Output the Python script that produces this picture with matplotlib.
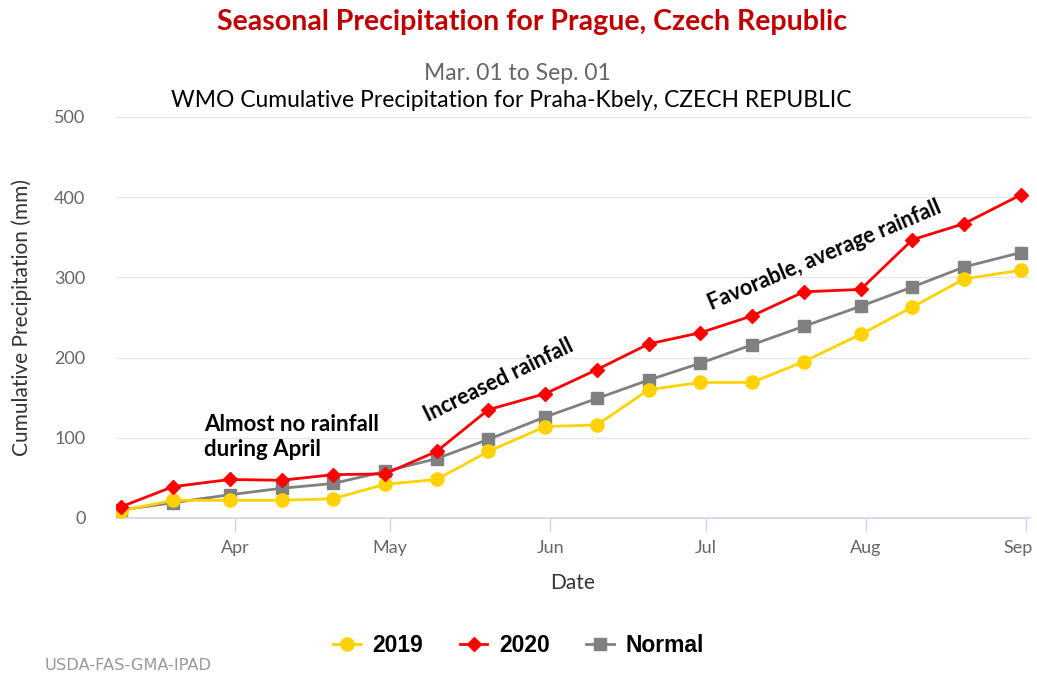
import matplotlib
matplotlib.use("Agg")
import matplotlib.pyplot as plt
import matplotlib.dates as mdates
import matplotlib.transforms as mtransforms
import pandas as pd
from matplotlib.lines import Line2D

# dekad end dates
dates = ["2020-03-10", "2020-03-20", "2020-03-31", "2020-04-10", "2020-04-20", "2020-04-30",
         "2020-05-10", "2020-05-20", "2020-05-31", "2020-06-10", "2020-06-20", "2020-06-30",
         "2020-07-10", "2020-07-20", "2020-07-31", "2020-08-10", "2020-08-20", "2020-08-31"]
y2019 = [9, 22, 22, 22, 24, 42, 48, 83, 114, 116, 160, 169, 169, 195, 229, 263, 298, 309]
y2020 = [14, 39, 48, 47, 54, 55, 83, 135, 155, 185, 217, 231, 252, 282, 285, 347, 367, 403]
normal = [10, 19, 29, 37, 43, 58, 74, 98, 126, 149, 172, 193, 216, 239, 264, 288, 313, 331]
yticks = [0, 100, 200, 300, 400, 500]

x = pd.to_datetime(dates)

plt.rcParams["font.family"] = ["Lato", "DejaVu Sans"]

fig = plt.figure(figsize=(10.37, 6.77), dpi=100)
ax = fig.add_axes([0.1119, 0.2349, 0.8814, 0.5923])

ax.plot(x, normal, color="#808080", lw=2, marker="s", ms=8, zorder=3)
ax.plot(x, y2019, color="#FFD200", lw=2, marker="o", ms=9.5, zorder=4)
ax.plot(x, y2020, color="#FF0000", lw=2, marker="D", ms=7, zorder=5)

ax.set_ylim(0, 500)
ax.set_yticks(yticks)
ax.set_xlim(pd.Timestamp("2020-03-09"), pd.Timestamp("2020-09-01 18:00"))
ax.xaxis.set_major_locator(mdates.MonthLocator(bymonth=[4, 5, 6, 7, 8, 9]))
ax.xaxis.set_major_formatter(mdates.DateFormatter("%b"))

for s in ["top", "right", "left"]:
    ax.spines[s].set_visible(False)
ax.spines["bottom"].set_color("#ccd6eb")
ax.spines["bottom"].set_linewidth(1.2)
ax.grid(axis="y", color="#e6e6e6", lw=1)
ax.set_axisbelow(True)
ax.tick_params(axis="x", colors="#ccd6eb", length=10, width=1, labelcolor="#666666",
               labelsize=13, pad=6)
ax.tick_params(axis="y", length=0, labelcolor="#666666", labelsize=13, pad=22)

# keep the last month label inside the figure, as the reference does
fig.canvas.draw()
last = ax.get_xticklabels()[-1]
last.set_horizontalalignment("right")
last.set_transform(last.get_transform() + mtransforms.ScaledTranslation(5 / 72, 0, fig.dpi_scale_trans))

ax.set_ylabel("Cumulative Precipitation (mm)", fontsize=15, color="#333333", labelpad=16)
ax.set_xlabel("Date", fontsize=15, color="#333333", labelpad=12)

fig.text(0.513, 0.968, "Seasonal Precipitation for Prague, Czech Republic", ha="center", va="center",
         fontsize=20.5, fontweight="bold", color="#C00000")
fig.text(0.499, 0.891, "Mar. 01 to Sep. 01", ha="center", va="center", fontsize=16.5,
         color="#666666")
fig.text(0.493, 0.851, "WMO Cumulative Precipitation for Praha-Kbely, CZECH REPUBLIC", ha="center",
         va="center", fontsize=16.5, color="black")
fig.text(0.043, 0.017, "USDA-FAS-GMA-IPAD", ha="left", va="center", fontsize=11.7,
         color="#999999", family="DejaVu Sans")

ax.text(pd.Timestamp("2020-03-26"), 101, "Almost no rainfall\nduring April", ha="left", va="center",
        fontsize=16, fontweight="bold", linespacing=1.25)
ax.text(pd.Timestamp("2020-05-22"), 172, "Increased rainfall", ha="center", va="center",
        fontsize=15.5, fontweight="bold", rotation=26)
ax.text(pd.Timestamp("2020-07-24"), 327, "Favorable, average rainfall", ha="center", va="center",
        fontsize=15.5, fontweight="bold", rotation=23)

handles = [
    Line2D([], [], color="#FFD200", lw=2, marker="o", ms=9.5),
    Line2D([], [], color="#FF0000", lw=2, marker="D", ms=7),
    Line2D([], [], color="#808080", lw=2, marker="s", ms=8),
]
fig.legend(handles, ["2019", "2020", "Normal"], loc="center", bbox_to_anchor=(0.5, 0.047),
           ncol=3, frameon=False, prop={"weight": "bold", "size": 16.5, "family": "Liberation Sans"},
           handlelength=1.2, columnspacing=1.6, handletextpad=0.5)

fig.savefig("out.png", dpi=100)
